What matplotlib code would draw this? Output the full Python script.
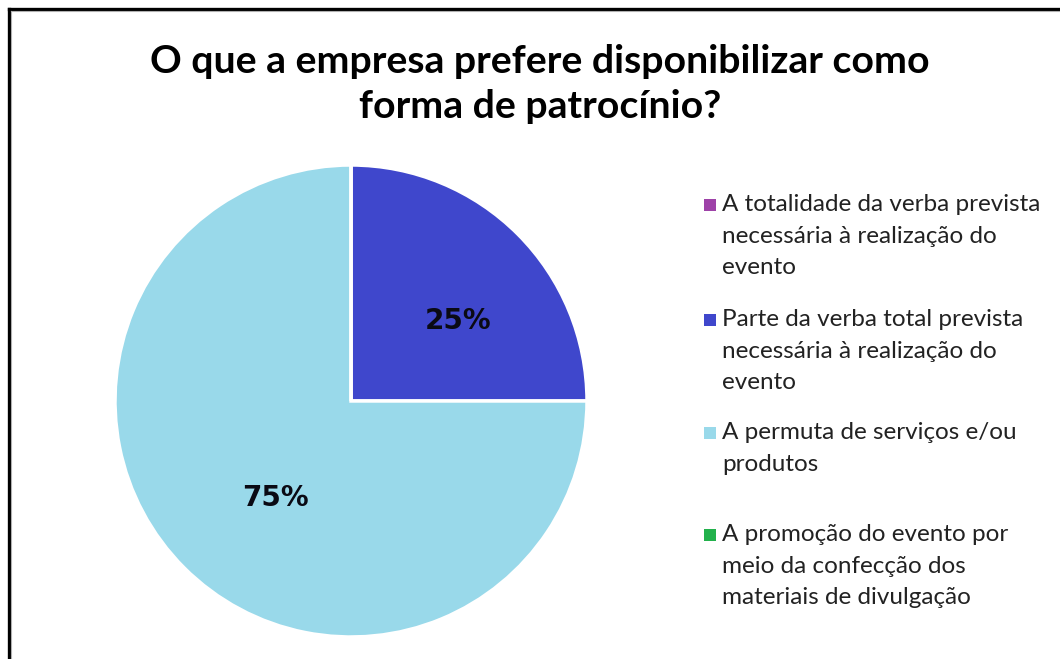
import matplotlib.pyplot as plt
from matplotlib.lines import Line2D
from matplotlib.patches import Rectangle

categories = [
    "A totalidade da verba prevista\nnecessária à realização do\nevento",
    "Parte da verba total prevista\nnecessária à realização do\nevento",
    "A permuta de serviços e/ou\nprodutos",
    "A promoção do evento por\nmeio da confecção dos\nmateriais de divulgação",
]
shares = [0, 25, 75, 0]
colors = ["#9E42A8", "#3F47CC", "#99D9EA", "#22B14C"]

title = "O que a empresa prefere disponibilizar como\nforma de patrocínio?"

plt.rcParams['font.family'] = ['Lato', 'DejaVu Sans']

W, H = 1060, 659
fig = plt.figure(figsize=(W / 100, H / 100), dpi=100)
fig.patch.set_facecolor('white')

# pie axes: centre (351, 401) px, radius 236 px
cx, cy, r = 351, 401, 236
ax = fig.add_axes([(cx - r) / W, (H - cy - r) / H, 2 * r / W, 2 * r / H])


def pct(p):
    return f"{p:.0f}%" if p > 0.5 else ""


wedges, texts, autotexts = ax.pie(
    shares, colors=colors, startangle=90, counterclock=False,
    autopct=pct, pctdistance=0.55,
    wedgeprops=dict(edgecolor='white', linewidth=2.5),
    textprops=dict(fontsize=20, fontweight='heavy', family=['DejaVu Sans'],
                   color='#0a0a14'),
)
ax.set_xlim(-1, 1)
ax.set_ylim(-1, 1)

# label placement inside the two visible slices (axes data units)
label_pos = {1: (0.455, 0.34), 2: (-0.32, -0.41)}
for i, pos in label_pos.items():
    autotexts[i].set_position(pos)

fig.text(540 / W, 1 - 84 / H, title, ha='center', va='center',
         fontsize=28.3, fontweight='bold', linespacing=1.36, color='black')

# legend: square key level with the first line of each label
first_line_y = [205, 320, 433, 535]
for lab, col, y in zip(categories, colors, first_line_y):
    fig.add_artist(Rectangle((704 / W, 1 - (y + 6) / H), 12 / W, 12 / H,
                             facecolor=col, edgecolor='none',
                             transform=fig.transFigure))
    fig.text(722 / W, 1 - (y - 11) / H, lab, ha='left', va='top',
             fontsize=17.5, linespacing=1.62, color='#222222')

# frame on the left and top edges
x0, y0 = 8.5 / W, 1 - 8.5 / H
fig.add_artist(Line2D([x0, x0], [0, y0], color='black', lw=2.4,
                      transform=fig.transFigure))
fig.add_artist(Line2D([x0, 1], [y0, y0], color='black', lw=2.4,
                      transform=fig.transFigure))
fig.add_artist(Line2D([x0 + 2.5 / W, x0 + 2.5 / W], [0, y0 - 2.5 / H],
                      color='#b0b0b0', lw=0.8, transform=fig.transFigure))
fig.add_artist(Line2D([x0 + 2.5 / W, 1], [y0 - 2.5 / H, y0 - 2.5 / H],
                      color='#b0b0b0', lw=0.8, transform=fig.transFigure))

fig.savefig('out.png', dpi=100)
